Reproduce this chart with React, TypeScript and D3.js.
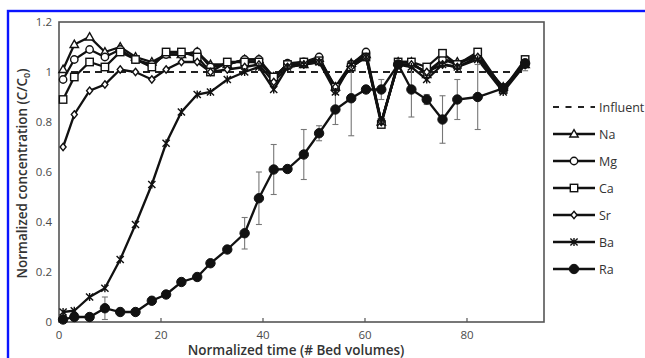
import React from "react";
import * as d3 from "d3";

const bedVolumes = [0.8, 3, 6, 9, 12, 15, 18.2, 21, 24, 27.1, 29.7, 33, 36.4, 39.2, 42.1, 44.8, 48, 51, 54.2, 57.3, 60.2, 63.2, 66.5, 69.1, 72.1, 75.2, 78.1, 82.1, 87.1, 91.4];

const naValues = [1.01, 1.11, 1.14, 1.08, 1.1, 1.06, 1.04, 1.07, 1.07, 1.08, 1.03, 1.03, 1.05, 1.05, 0.98, 1.03, 1.03, 1.055, 0.94, 1.035, 1.07, 0.8, 1.04, 1.04, 0.99, 1.05, 1.04, 1.06, 0.94, 1.03];
const mgValues = [0.97, 1.05, 1.09, 1.06, 1.09, 1.05, 1.03, 1.07, 1.07, 1.08, 1.02, 1.03, 1.05, 1.05, 0.97, 1.035, 1.04, 1.06, 0.93, 1.03, 1.08, 0.8, 1.03, 1.03, 1.0, 1.05, 1.03, 1.07, 0.93, 1.03];
const caValues = [0.89, 0.98, 1.04, 1.02, 1.08, 1.05, 1.02, 1.08, 1.08, 1.06, 1.0, 1.04, 1.04, 1.04, 0.98, 1.03, 1.04, 1.045, 0.94, 1.02, 1.06, 0.79, 1.04, 1.04, 1.02, 1.075, 1.03, 1.08, 0.93, 1.05];
const srValues = [0.7, 0.83, 0.925, 0.95, 1.01, 1.0, 0.97, 1.01, 1.04, 1.04, 1.0, 1.01, 1.02, 1.03, 0.96, 1.02, 1.03, 1.04, 0.94, 1.02, 1.06, 0.8, 1.03, 1.03, 1.0, 1.03, 1.02, 1.06, 0.93, 1.03];
const baValues = [0.04, 0.045, 0.1, 0.135, 0.25, 0.39, 0.55, 0.715, 0.84, 0.91, 0.92, 0.97, 1.0, 1.02, 0.93, 1.02, 1.03, 1.04, 0.92, 1.03, 1.06, 0.8, 1.03, 1.02, 0.97, 1.03, 1.02, 1.05, 0.92, 1.03];
const raValues = [0.01, 0.02, 0.02, 0.055, 0.04, 0.04, 0.085, 0.11, 0.16, 0.18, 0.235, 0.29, 0.355, 0.495, 0.61, 0.612, 0.67, 0.755, 0.85, 0.895, 0.93, 0.93, 1.03, 0.93, 0.89, 0.81, 0.89, 0.9, 0.935, 1.035];
const raErrors = [0, 0, 0, 0.045, 0, 0, 0, 0, 0, 0, 0, 0, 0.063, 0.105, 0.1, 0, 0.1, 0.03, 0.06, 0.15, 0, 0.04, 0, 0.11, 0.02, 0.095, 0.08, 0.13, 0, 0.03];

const influentRange = [0, 91.4];
const influentValue = 1;

const xTicks = [0, 20, 40, 60, 80];
const yTicks = [0, 0.2, 0.4, 0.6, 0.8, 1, 1.2];
const yTickLabels = ["0", "0.2", "0.4", "0.6", "0.8", "1", "1.2"];

const seriesNames = ["Na", "Mg", "Ca", "Sr", "Ba", "Ra"];
const seriesMarkers = ["triangle", "circle", "square", "diamond", "asterisk", "dot"];
const seriesValues = [naValues, mgValues, caValues, srValues, baValues, raValues];

const FONT = "'Open Sans', 'DejaVu Sans', sans-serif";

function Marker({ kind, x, y }: { kind: string; x: number; y: number }) {
  const sw = 1.4;
  switch (kind) {
    case "triangle":
      return <path d={`M${x},${y - 4.4}L${x + 4.2},${y + 3}L${x - 4.2},${y + 3}Z`} fill="white" stroke="#111" strokeWidth={sw} />;
    case "circle":
      return <circle cx={x} cy={y} r={3.7} fill="white" stroke="#111" strokeWidth={sw} />;
    case "square":
      return <rect x={x - 3.7} y={y - 3.7} width={7.4} height={7.4} fill="white" stroke="#111" strokeWidth={sw} />;
    case "diamond":
      return <path d={`M${x},${y - 3.7}L${x + 3},${y}L${x},${y + 3.7}L${x - 3},${y}Z`} fill="white" stroke="#111" strokeWidth={sw} />;
    case "asterisk":
      return (
        <path
          d={`M${x - 3.6},${y - 3.6}L${x + 3.6},${y + 3.6}M${x + 3.6},${y - 3.6}L${x - 3.6},${y + 3.6}M${x},${y - 4}L${x},${y + 4}`}
          stroke="#111"
          strokeWidth={1.4}
          fill="none"
        />
      );
    default:
      return <circle cx={x} cy={y} r={4.7} fill="#111" stroke="#111" strokeWidth={1} />;
  }
}

export default function App() {
  const width = 645;
  const height = 358;
  const left = 59;
  const right = 544;
  const top = 22;
  const bottom = 322;

  const x = d3.scaleLinear().domain([0, 95.1]).range([left, right]);
  const y = d3.scaleLinear().domain([0, 1.2]).range([bottom, top]);

  const line = d3
    .line<number>()
    .x((_, i) => x(bedVolumes[i]))
    .y((d) => y(d));

  const legendY0 = 107;
  const legendStep = 27;
  const legendX1 = 553;
  const legendX2 = 595;

  return (
    <svg
      width={width}
      height={height}
      style={{ position: "absolute", left: 0, top: 0, background: "white" }}
    >
      <rect x={0} y={0} width={width} height={height} fill="white" />
      <rect x={8} y={11} width={700} height={400} fill="none" stroke="#0a14ff" strokeWidth={2.4} />

      {/* plot frame */}
      <rect x={left} y={top} width={right - left} height={bottom - top} fill="none" stroke="#555" strokeWidth={1.6} />

      {/* x ticks */}
      {xTicks.map((t) => (
        <g key={"xt" + t}>
          {t > 0 && <line x1={x(t)} x2={x(t)} y1={bottom} y2={bottom - 4} stroke="#555" strokeWidth={1.2} />}
          <text x={x(t)} y={338.5} textAnchor="middle" fontFamily={FONT} fontSize={11.5} fill="#4a4a4a">
            {t}
          </text>
        </g>
      ))}
      {/* y tick labels */}
      {yTicks.map((t, i) => (
        <text key={"yt" + t} x={52} y={y(t) + 4} textAnchor="end" fontFamily={FONT} fontSize={11.5} fill="#4a4a4a">
          {yTickLabels[i]}
        </text>
      ))}

      {/* axis titles */}
      <text x={296} y={355} textAnchor="middle" fontFamily={FONT} fontSize={13.5} fontWeight={600} fill="#333">
        Normalized time (# Bed volumes)
      </text>
      <text
        transform={`translate(27,${173.5}) rotate(-90)`}
        textAnchor="middle"
        fontFamily={FONT}
        fontSize={13.5}
        fontWeight={600}
        fill="#333"
      >
        Normalized concentration (C/C
        <tspan fontSize={9} dy={3}>0</tspan>
        <tspan dy={-3}>)</tspan>
      </text>

      {/* influent */}
      <line
        x1={x(influentRange[0])}
        x2={x(influentRange[1])}
        y1={y(influentValue)}
        y2={y(influentValue)}
        stroke="#222"
        strokeWidth={2.2}
        strokeDasharray="7,5"
      />

      {/* series lines */}
      {seriesValues.map((vals, si) => (
        <path key={"l" + si} d={line(vals) || ""} fill="none" stroke="#111" strokeWidth={2.3} />
      ))}

      {/* Ra error bars */}
      {raValues.map((v, i) =>
        raErrors[i] > 0 ? (
          <g key={"e" + i} stroke="#777" strokeWidth={1.1}>
            <line x1={x(bedVolumes[i])} x2={x(bedVolumes[i])} y1={y(v - raErrors[i])} y2={y(v + raErrors[i])} />
            <line x1={x(bedVolumes[i]) - 3} x2={x(bedVolumes[i]) + 3} y1={y(v - raErrors[i])} y2={y(v - raErrors[i])} />
            <line x1={x(bedVolumes[i]) - 3} x2={x(bedVolumes[i]) + 3} y1={y(v + raErrors[i])} y2={y(v + raErrors[i])} />
          </g>
        ) : null
      )}

      {/* markers */}
      {seriesValues.map((vals, si) =>
        vals.map((v, i) => <Marker key={`m${si}-${i}`} kind={seriesMarkers[si]} x={x(bedVolumes[i])} y={y(v)} />)
      )}

      {/* legend */}
      <g>
        <line x1={legendX1} x2={legendX2} y1={legendY0} y2={legendY0} stroke="#222" strokeWidth={2.2} strokeDasharray="6,6.5" />
        <text x={legendX2 + 4} y={legendY0 + 4.5} fontFamily={FONT} fontSize={12.5} fill="#333">
          Influent
        </text>
        {seriesNames.map((name, i) => {
          const ly = legendY0 + legendStep * (i + 1);
          return (
            <g key={"lg" + name}>
              <line x1={legendX1} x2={legendX2} y1={ly} y2={ly} stroke="#111" strokeWidth={2.3} />
              <Marker kind={seriesMarkers[i]} x={(legendX1 + legendX2) / 2} y={ly} />
              <text x={legendX2 + 4} y={ly + 4.5} fontFamily={FONT} fontSize={12.5} fill="#333">
                {name}
              </text>
            </g>
          );
        })}
      </g>
    </svg>
  );
}
